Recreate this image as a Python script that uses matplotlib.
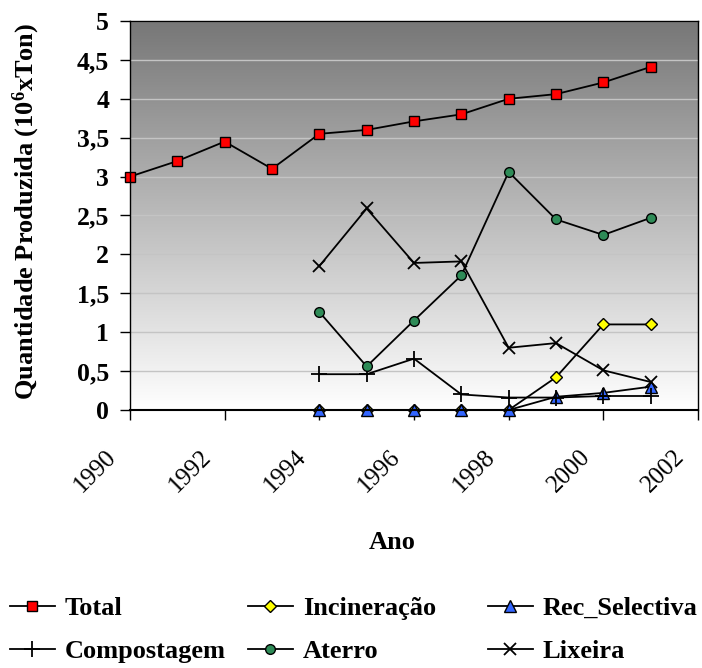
import numpy as np
import matplotlib
matplotlib.use('Agg')
import matplotlib.pyplot as plt
from matplotlib.colors import LinearSegmentedColormap
from matplotlib.transforms import ScaledTranslation

plt.rcParams['font.family'] = ['Liberation Serif', 'DejaVu Serif']
plt.rcParams['font.weight'] = 'bold'
plt.rcParams['mathtext.fontset'] = 'custom'
plt.rcParams['mathtext.rm'] = 'Liberation Serif:bold'
plt.rcParams['mathtext.it'] = 'Liberation Serif:bold'
plt.rcParams['mathtext.default'] = 'rm'

# dados (10^6 ton)
anos_total = np.arange(1990, 2002)
total = [3.0, 3.2, 3.45, 3.1, 3.55, 3.6, 3.71, 3.8, 4.0, 4.06, 4.21, 4.41]

anos = np.arange(1994, 2002)
incineracao = [0, 0, 0, 0, 0, 0.42, 1.1, 1.1]
rec_selectiva = [0, 0, 0, 0, 0, 0.17, 0.22, 0.3]
compostagem = [0.46, 0.46, 0.66, 0.2, 0.16, 0.16, 0.18, 0.18]
aterro = [1.26, 0.56, 1.15, 1.73, 3.06, 2.45, 2.25, 2.47]
lixeira = [1.85, 2.59, 1.89, 1.91, 0.8, 0.86, 0.51, 0.36]

x_ticks = np.arange(1990, 2003, 2)
y_ticks = np.arange(0, 5.01, 0.5)
y_tick_labels = ['0', '0,5', '1', '1,5', '2', '2,5', '3', '3,5', '4', '4,5', '5']

fig = plt.figure(figsize=(7.02, 6.68), dpi=100)
ax = fig.add_axes([130/702, 1 - 410/668, 568/702, 389/668])

# fundo em degradé
cmap = LinearSegmentedColormap.from_list('fundo', ['#777777', '#ffffff'])
ax.imshow(np.linspace(0, 1, 256).reshape(-1, 1), cmap=cmap, aspect='auto',
          extent=[0, 1, 0, 1], transform=ax.transAxes, zorder=0)

ax.yaxis.grid(True, color='#c4c4c4', lw=1)
ax.set_axisbelow(True)

kw = dict(color='black', lw=1.3, clip_on=False)
l_total, = ax.plot(anos_total, total, marker='s', ms=7, mfc='#ff0000', mec='black', mew=1, label='Total', **kw)
l_inc, = ax.plot(anos, incineracao, marker='D', ms=6, mfc='#ffff00', mec='black', mew=1, label='Incineração', **kw)
l_rec, = ax.plot(anos, rec_selectiva, marker='^', ms=8, mfc='#3366ff', mec='black', mew=1, label='Rec_Selectiva', **kw)
l_comp, = ax.plot(anos, compostagem, marker='+', ms=11, mew=1.3, label='Compostagem', **kw)
l_at, = ax.plot(anos, aterro, marker='o', ms=7, mfc='#2e8b57', mec='black', mew=1, label='Aterro', **kw)
l_lix, = ax.plot(anos, lixeira, marker='x', ms=9, mew=1.3, label='Lixeira', **kw)

ax.set_xlim(1990, 2002)
ax.set_ylim(0, 5)
ax.set_xticks(x_ticks)
ax.set_xticklabels([str(a) for a in x_ticks], rotation=45, ha='right', fontweight='normal')
ax.set_yticks(y_ticks)
ax.set_yticklabels(y_tick_labels)
ax.tick_params(axis='y', direction='out', length=7, width=1, labelsize=18.5, pad=8)
ax.tick_params(axis='x', direction='out', length=7, width=1, labelsize=18, pad=19)
for lbl in ax.get_xticklabels():
    lbl.set_transform(lbl.get_transform() + ScaledTranslation(-0.09, 0, fig.dpi_scale_trans))

for s in ax.spines.values():
    s.set_color('black')
    s.set_linewidth(1)
ax.spines['bottom'].set_linewidth(1.5)

ax.set_ylabel('Quantidade Produzida (10$^{6}$xTon)', fontsize=19, fontweight='bold')
ax.yaxis.set_label_coords(-0.155, 0.51)
ax.set_xlabel('Ano', fontsize=19, fontweight='bold')
ax.xaxis.set_label_coords(0.461, -0.31)

# legenda em três colunas
grupos = [([l_total, l_comp], 10), ([l_inc, l_at], 248), ([l_rec, l_lix], 488)]
for hs, xpos in grupos:
    fig.legend(handles=hs, loc='center left', bbox_to_anchor=(xpos/702, 1 - 630/668),
               frameon=False, fontsize=19, handlelength=1.7, handletextpad=0.38,
               labelspacing=0.75, borderpad=0, borderaxespad=0)

fig.savefig('out.png', dpi=100)
